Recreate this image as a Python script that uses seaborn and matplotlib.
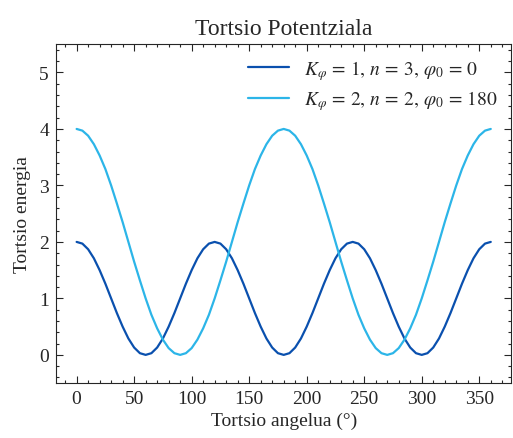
"""Torsion potential curves, SciencePlots-like look."""

import matplotlib
matplotlib.use("Agg")
import matplotlib.pyplot as plt
import pandas as pd
import seaborn as sns
from matplotlib.ticker import MultipleLocator

# angle in degrees, every 5 degrees
angle = list(range(0, 365, 5))

# K=1, n=3, phi0=0
energy_1 = [
    2.00, 1.97, 1.87, 1.71, 1.50, 1.26, 1.00, 0.74, 0.50, 0.29, 0.13, 0.03,
    0.00, 0.03, 0.13, 0.29, 0.50, 0.74, 1.00, 1.26, 1.50, 1.71, 1.87, 1.97,
    2.00, 1.97, 1.87, 1.71, 1.50, 1.26, 1.00, 0.74, 0.50, 0.29, 0.13, 0.03,
    0.00, 0.03, 0.13, 0.29, 0.50, 0.74, 1.00, 1.26, 1.50, 1.71, 1.87, 1.97,
    2.00, 1.97, 1.87, 1.71, 1.50, 1.26, 1.00, 0.74, 0.50, 0.29, 0.13, 0.03,
    0.00, 0.03, 0.13, 0.29, 0.50, 0.74, 1.00, 1.26, 1.50, 1.71, 1.87, 1.97,
    2.00,
]

# K=2, n=2, phi0=180
energy_2 = [
    4.00, 3.97, 3.88, 3.73, 3.53, 3.29, 3.00, 2.68, 2.35, 2.00, 1.65, 1.32,
    1.00, 0.71, 0.47, 0.27, 0.12, 0.03, 0.00, 0.03, 0.12, 0.27, 0.47, 0.71,
    1.00, 1.32, 1.65, 2.00, 2.35, 2.68, 3.00, 3.29, 3.53, 3.73, 3.88, 3.97,
    4.00, 3.97, 3.88, 3.73, 3.53, 3.29, 3.00, 2.68, 2.35, 2.00, 1.65, 1.32,
    1.00, 0.71, 0.47, 0.27, 0.12, 0.03, 0.00, 0.03, 0.12, 0.27, 0.47, 0.71,
    1.00, 1.32, 1.65, 2.00, 2.35, 2.68, 3.00, 3.29, 3.53, 3.73, 3.88, 3.97,
    4.00,
]

labels = [
    r"$K_\varphi\, =\, 1,\, n\, =\, 3,\, \varphi_0\, =\, 0$",
    r"$K_\varphi\, =\, 2,\, n\, =\, 2,\, \varphi_0\, =\, 180$",
]
colors = ["#0A50AE", "#2CB5E8"]

sns.set_theme(style="ticks")
plt.rcParams["font.family"] = ["Liberation Serif", "DejaVu Serif"]
plt.rcParams["mathtext.fontset"] = "stix"

df = pd.DataFrame({
    "angle": angle * 2,
    "energy": energy_1 + energy_2,
    "curve": [labels[0]] * len(angle) + [labels[1]] * len(angle),
})

fig, ax = plt.subplots(figsize=(5.13, 4.39), dpi=100)
sns.lineplot(data=df, x="angle", y="energy", hue="curve", palette=colors,
             linewidth=1.6, ax=ax)

ax.set_ylim(-0.5, 5.5)
ax.xaxis.set_major_locator(MultipleLocator(50))
ax.xaxis.set_minor_locator(MultipleLocator(10))
ax.yaxis.set_major_locator(MultipleLocator(1))
ax.yaxis.set_minor_locator(MultipleLocator(0.2))
ax.tick_params(which="both", direction="in", top=True, right=True,
               labelsize=14, width=0.8)
ax.tick_params(which="major", length=5, pad=5)
ax.tick_params(which="minor", length=2.5)
for s in ax.spines.values():
    s.set_linewidth(0.8)

ax.set_title("Tortsio Potentziala", fontsize=17, pad=7)
ax.set_xlabel("Tortsio angelua (°)", fontsize=14, labelpad=3)
ax.set_ylabel("Tortsio energia", fontsize=14, labelpad=6)
ax.legend(title=None, frameon=False, fontsize=14, loc="upper right",
          handlelength=2.1, borderaxespad=0.3, labelspacing=0.35)

fig.subplots_adjust(left=0.109, right=0.997, top=0.897, bottom=0.125)
fig.savefig("out.png", dpi=100)
